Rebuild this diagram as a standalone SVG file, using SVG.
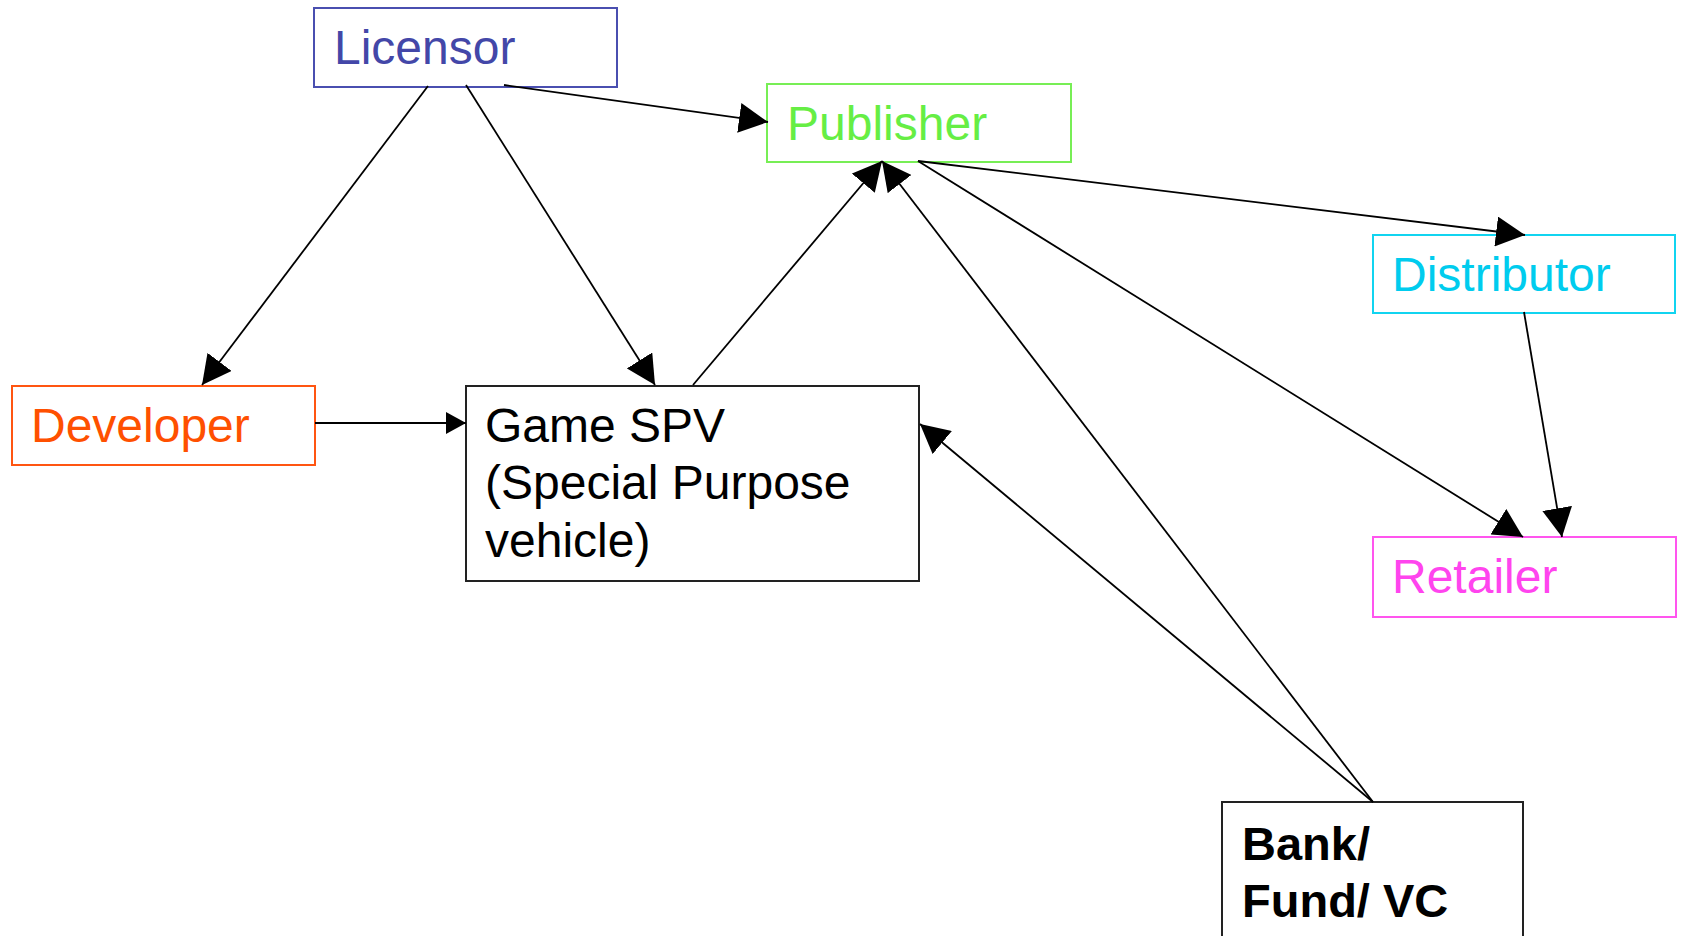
<svg xmlns="http://www.w3.org/2000/svg" width="1681" height="936" viewBox="0 0 1681 936">
  <style>
    .box { fill: #ffffff; stroke-width: 2; }
    .lbl { font-family: "Liberation Sans", Arial, sans-serif; font-size: 48px; }
    .bold { font-weight: bold; font-size: 47px; }
    .edge { stroke: #000000; stroke-width: 1.8; fill: none; marker-end: url(#head); }
    .edge-small { stroke: #000000; stroke-width: 1.8; fill: none; marker-end: url(#head-small); }
  </style>
  <defs>
    <marker id="head" markerUnits="userSpaceOnUse" markerWidth="30" markerHeight="30" refX="29" refY="15" orient="auto">
      <path d="M0,0 L29,15 L0,30 z" fill="#000000"/>
    </marker>
    <marker id="head-small" markerUnits="userSpaceOnUse" markerWidth="21" markerHeight="22" refX="20" refY="11" orient="auto">
      <path d="M0,0 L20,11 L0,22 z" fill="#000000"/>
    </marker>
  </defs>
  <rect width="1681" height="936" fill="#ffffff"/>

  <g id="licensor">
    <rect class="box" x="314" y="8" width="303" height="79" stroke="#4A4FB0"/>
    <text class="lbl" x="334" y="64" fill="#4347A8">Licensor</text>
  </g>
  <g id="publisher">
    <rect class="box" x="767" y="84" width="304" height="78" stroke="#77EE55"/>
    <text class="lbl" x="787" y="140" fill="#66EE44">Publisher</text>
  </g>
  <g id="developer">
    <rect class="box" x="12" y="386" width="303" height="79" stroke="#FF5511"/>
    <text class="lbl" x="31" y="442" fill="#FF5000">Developer</text>
  </g>
  <g id="game-spv">
    <rect class="box" x="466" y="386" width="453" height="195" stroke="#222222"/>
    <text class="lbl" fill="#000000">
      <tspan x="485" y="442">Game SPV</tspan>
      <tspan x="485" y="499">(Special Purpose</tspan>
      <tspan x="485" y="557">vehicle)</tspan>
    </text>
  </g>
  <g id="distributor">
    <rect class="box" x="1373" y="235" width="302" height="78" stroke="#11D4F0"/>
    <text class="lbl" x="1392" y="291" fill="#00CCEE">Distributor</text>
  </g>
  <g id="retailer">
    <rect class="box" x="1373" y="537" width="303" height="80" stroke="#FF55EE"/>
    <text class="lbl" x="1392" y="593" fill="#FF44EE">Retailer</text>
  </g>
  <g id="bank">
    <rect class="box" x="1222" y="802" width="301" height="160" stroke="#222222"/>
    <text class="lbl bold" fill="#000000">
      <tspan x="1242" y="860">Bank/</tspan>
      <tspan x="1242" y="917">Fund/ VC</tspan>
    </text>
  </g>

  <!-- edges drawn last so they meet the box borders -->
  <g id="connectors">
    <line class="edge" x1="428" y1="86" x2="202" y2="385"/>
    <line class="edge" x1="466" y1="85" x2="655" y2="385"/>
    <line class="edge" x1="504" y1="85" x2="768" y2="122"/>
    <line class="edge-small" x1="315" y1="423" x2="466" y2="423"/>
    <line class="edge" x1="693" y1="385" x2="882" y2="161"/>
    <line class="edge" x1="1373" y1="802" x2="882" y2="161"/>
    <line class="edge" x1="1373" y1="802" x2="920" y2="424"/>
    <line class="edge" x1="918" y1="161" x2="1525" y2="235"/>
    <line class="edge" x1="918" y1="161" x2="1523" y2="537"/>
    <line class="edge" x1="1524" y1="312" x2="1562" y2="537"/>
  </g>
</svg>
